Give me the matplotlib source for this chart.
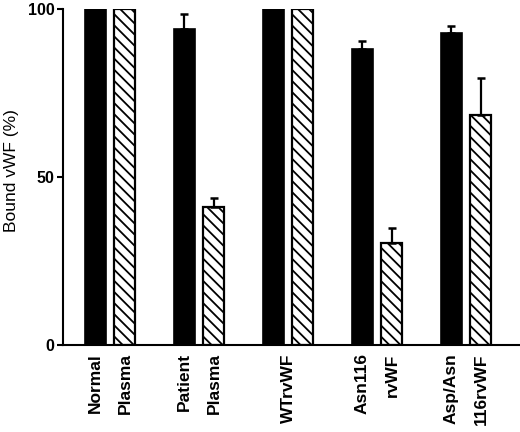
import matplotlib
matplotlib.use("Agg")
import matplotlib.pyplot as plt
import numpy as np

plt.rcParams["font.family"] = ["Liberation Sans", "DejaVu Sans"]
plt.rcParams["hatch.linewidth"] = 1.3

# values
groups = ["Normal Plasma", "Patient Plasma", "WTrvWF", "Asn116 rvWF", "Asp/Asn 116rvWF"]
solid_vals = [100, 94.0, 100, 88.0, 93.0]
solid_err = [0, 4.5, 0, 2.5, 2.0]
hatch_vals = [100, 41.2, 100, 30.3, 68.5]
hatch_err = [0, 2.6, 0, 4.6, 11.1]
tick_labels = ["Normal", "Plasma", "Patient", "Plasma", "WTrvWF",
               "Asn116", "rvWF", "Asp/Asn", "116rvWF"]

x = np.arange(len(groups))
off = 0.168
w = 0.236

fig = plt.figure(figsize=(5.2, 4.32), dpi=100)
ax = fig.add_axes([63 / 520, 87 / 432, 457 / 520, 336 / 432])

ax.bar(x - off, solid_vals, w, color="black", edgecolor="black", linewidth=1.2)
ax.bar(x + off, hatch_vals, w, color="white", edgecolor="black", linewidth=1.6,
       hatch="\\\\\\")

# only the upper half of each error bar is drawn
for xs, vals, errs in [(x - off, solid_vals, solid_err), (x + off, hatch_vals, hatch_err)]:
    for xi, v, e in zip(xs, vals, errs):
        if e > 0:
            ax.errorbar(xi, v, yerr=[[0], [e]], fmt="none", ecolor="black",
                        elinewidth=1.6, capsize=2.8, capthick=1.8)

ax.set_xlim(-0.528, 4.607)
ax.set_ylim(0, 100)
ax.set_yticks([0, 50, 100])
ax.tick_params(axis="y", length=4, width=1.5, labelsize=11.5, pad=2)
for lab in ax.get_yticklabels():
    lab.set_fontweight("bold")

tick_pos = [x[0] - off, x[0] + off, x[1] - off, x[1] + off, x[2],
            x[3] - off, x[3] + off, x[4] - off, x[4] + off]
ax.set_xticks(tick_pos)
ax.set_xticklabels(tick_labels, rotation=90, fontsize=12.5, fontweight="bold")
ax.tick_params(axis="x", length=0, pad=6)

ax.set_ylabel("Bound vWF (%)", fontsize=12.5)
ax.yaxis.set_label_coords(-0.097, 0.52)

for s in ["top", "right"]:
    ax.spines[s].set_visible(False)
for s in ["left", "bottom"]:
    ax.spines[s].set_linewidth(1.5)

fig.savefig("out.png", dpi=100)
